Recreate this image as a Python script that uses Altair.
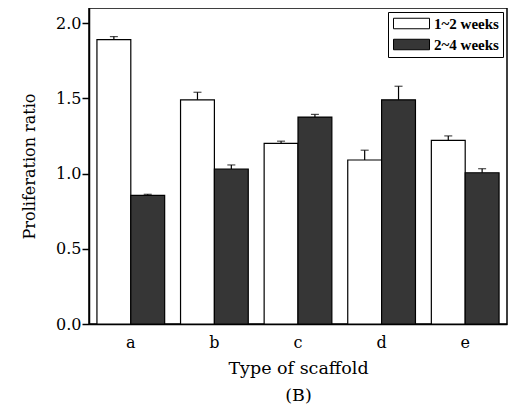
import altair as alt
import pandas as pd

categories = ["a", "b", "c", "d", "e"]
series = ["1~2 weeks", "2~4 weeks"]
white_vals = [1.89, 1.49, 1.20, 1.09, 1.22]
white_err = [0.02, 0.05, 0.015, 0.065, 0.03]
dark_vals = [0.855, 1.03, 1.375, 1.49, 1.005]
dark_err = [0.007, 0.027, 0.018, 0.09, 0.027]

rows = []
for i, c in enumerate(categories):
    rows.append({"cat": c, "series": series[0], "val": white_vals[i], "top": white_vals[i] + white_err[i]})
    rows.append({"cat": c, "series": series[1], "val": dark_vals[i], "top": dark_vals[i] + dark_err[i]})
df = pd.DataFrame(rows)

FONT = "DejaVu Serif"

x_enc = alt.X("cat:N", sort=categories,
              scale=alt.Scale(paddingInner=0.19, paddingOuter=0.095),
              axis=alt.Axis(title=["Type of scaffold", "(B)"], labelAngle=0, ticks=False,
                            labelPadding=10, labelFontSize=16, titleFontSize=17.5,
                            titlePadding=9, titleLineHeight=27, titleFontWeight="normal"))
xo = alt.XOffset("series:N", sort=series, scale=alt.Scale(paddingInner=0, paddingOuter=0))
y_scale = alt.Scale(domain=[0, 2.1], nice=False)

bars = alt.Chart(df).mark_bar(stroke="black", strokeWidth=1.2, opacity=1).encode(
    x=x_enc,
    xOffset=xo,
    y=alt.Y("val:Q", scale=y_scale,
            axis=alt.Axis(title="Proliferation ratio", values=[0, 0.5, 1.0, 1.5, 2.0], format=".1f",
                          tickSize=7, labelPadding=1, labelFontSize=16, titleFontSize=16,
                          titlePadding=18, titleFontWeight="normal", grid=False)),
    color=alt.Color("series:N", sort=series,
                    scale=alt.Scale(domain=series, range=["#ffffff", "#363636"]),
                    legend=alt.Legend(title=None, orient="top-right", offset=4,
                                      strokeColor="black", padding=4, fillColor="white",
                                      symbolType="M-3.6,-1.05H3.6V1.05H-3.6Z", symbolSize=100,
                                      symbolOffset=12,
                                      symbolStrokeColor="black", symbolStrokeWidth=1,
                                      symbolOpacity=1, labelFont="Liberation Serif",
                                      labelFontWeight="bold", labelFontSize=15,
                                      rowPadding=5, labelOffset=15)),
)

rules = alt.Chart(df).mark_rule(color="black", strokeWidth=1.2).encode(
    x=alt.X("cat:N", sort=categories), xOffset=xo,
    y=alt.Y("val:Q", scale=y_scale), y2="top:Q",
)
caps = alt.Chart(df).mark_tick(color="black", orient="horizontal", size=8, thickness=1.2).encode(
    x=alt.X("cat:N", sort=categories), xOffset=xo,
    y=alt.Y("top:Q", scale=y_scale),
)

chart = alt.layer(bars, rules, caps).properties(
    width=418, height=316,
    background="white",
    autosize=alt.AutoSizeParams(type="none"),
    padding={"left": 81, "top": 0, "right": 2, "bottom": 80},
).configure_axis(
    labelFont=FONT, titleFont=FONT, labelColor="black", titleColor="black",
    domainColor="black", domainWidth=1.5, tickColor="black", tickWidth=1.5,
).configure_view(stroke="black", strokeWidth=1.5)

chart.save("out.html", embed_options={"renderer": "svg", "actions": False})
